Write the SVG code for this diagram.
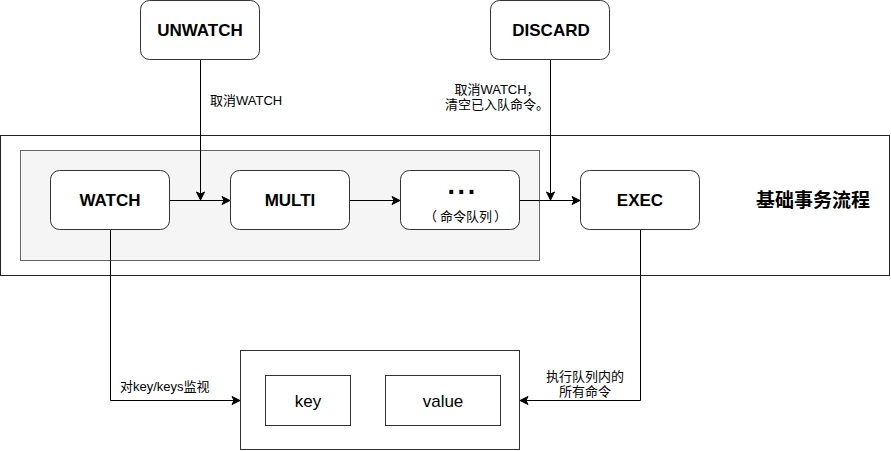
<svg xmlns="http://www.w3.org/2000/svg" width="891" height="451" viewBox="0 0 891 451">
<style>
.bg{fill:#ffffff}
.frame{fill:#ffffff;stroke:#222;stroke-width:1}
.inner{fill:#f5f5f5;stroke:#666;stroke-width:1}
.node{fill:#ffffff;stroke:#333;stroke-width:1}
.cell{fill:#ffffff;stroke:#333;stroke-width:1}
.bt{font-family:"Liberation Sans","Noto Sans CJK SC",sans-serif;font-weight:bold;font-size:17px;fill:#000;text-anchor:middle}
.lbl{font-family:"Liberation Sans","Noto Sans CJK SC",sans-serif;font-size:13px;fill:#000}
.cjk{font-family:"Noto Sans CJK SC",sans-serif;font-size:13px;fill:#000}
.kv{font-family:"Liberation Sans","Noto Sans CJK SC",sans-serif;font-size:17px;fill:#000;text-anchor:middle}
.title{font-family:"Noto Sans CJK SC","Liberation Sans",sans-serif;font-weight:bold;font-size:19px;fill:#000}
.edge{fill:none;stroke:#000;stroke-width:1}
</style>
<defs>
<marker id="arr" viewBox="0 0 10 10" refX="9" refY="5" markerWidth="10" markerHeight="10" markerUnits="userSpaceOnUse" orient="auto">
<path d="M1,1 L9,5 L1,9 L3,5 Z" fill="#000" stroke="#000" stroke-width="1"/>
</marker>
</defs>
<rect class="bg" x="0" y="0" width="891" height="451"/>
<g id="frame-main">
<rect class="frame" x="0.5" y="135.5" width="889" height="140"/>
<text class="title" x="756" y="207">基础事务流程</text>
</g>
<g id="queue-group">
<rect class="inner" x="20.5" y="150.5" width="519" height="110"/>
</g>
<g id="unwatch">
<rect class="node" x="140.5" y="0.5" width="119" height="59" rx="9" ry="9"/>
<text class="bt" x="200" y="36">UNWATCH</text>
</g>
<g id="discard">
<rect class="node" x="490.5" y="0.5" width="119" height="59" rx="9" ry="9"/>
<text class="bt" x="551" y="36">DISCARD</text>
</g>
<g id="watch">
<rect class="node" x="50.5" y="170.5" width="119" height="59" rx="9" ry="9"/>
<text class="bt" x="110" y="206">WATCH</text>
</g>
<g id="multi">
<rect class="node" x="230.5" y="170.5" width="119" height="59" rx="9" ry="9"/>
<text class="bt" x="290" y="206">MULTI</text>
</g>
<g id="queue">
<rect class="node" x="400.5" y="170.5" width="119" height="59" rx="9" ry="9"/>
<text x="447.5" y="193.5" style="font-family:'Liberation Sans',sans-serif;font-weight:bold;font-size:27px;letter-spacing:2.6px;fill:#000">...</text>
<text class="cjk" y="221"><tspan x="424">（</tspan><tspan x="440">命令队列</tspan><tspan x="494">）</tspan></text>
</g>
<g id="exec">
<rect class="node" x="580.5" y="170.5" width="119" height="59" rx="9" ry="9"/>
<text class="bt" x="640" y="206">EXEC</text>
</g>
<g id="store">
<rect class="cell" x="240.5" y="350.5" width="279" height="99"/>
<rect class="cell" x="265.5" y="375.5" width="85" height="50"/>
<text class="kv" x="308" y="407">key</text>
<rect class="cell" x="385.5" y="375.5" width="115" height="50"/>
<text class="kv" x="443" y="407">value</text>
</g>
<g id="connectors">
<path class="edge" d="M200.5,60 L200.5,200" marker-end="url(#arr)"/>
<path class="edge" d="M550.5,60 L550.5,200" marker-end="url(#arr)"/>
<path class="edge" d="M170,200.5 L230,200.5" marker-end="url(#arr)"/>
<path class="edge" d="M350,200.5 L400,200.5" marker-end="url(#arr)"/>
<path class="edge" d="M520,200.5 L580,200.5" marker-end="url(#arr)"/>
<path class="edge" d="M110.5,230 L110.5,400.5 L240,400.5" marker-end="url(#arr)"/>
<path class="edge" d="M640.5,230 L640.5,400.5 L520,400.5" marker-end="url(#arr)"/>
<text class="lbl" x="210" y="105">取消WATCH</text>
<text class="lbl" x="497" y="94" text-anchor="middle">取消WATCH，</text>
<text class="lbl" x="497" y="109" text-anchor="middle">清空已入队命令。</text>
<text class="lbl" x="120" y="391">对key/keys监视</text>
<text class="lbl" x="585" y="381" text-anchor="middle">执行队列内的</text>
<text class="lbl" x="585" y="396" text-anchor="middle">所有命令</text>
</g>
</svg>
